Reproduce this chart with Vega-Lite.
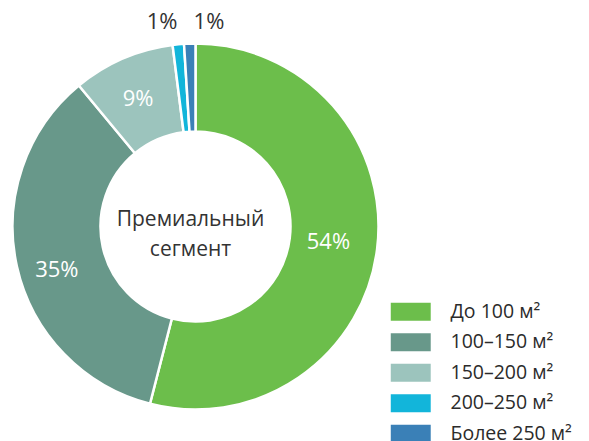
{
  "$schema": "https://vega.github.io/schema/vega-lite/v6.json",
  "width": 367,
  "height": 367,
  "autosize": {"type": "none"},
  "padding": {"left": 12, "top": 43, "right": 210, "bottom": 31},
  "background": "#ffffff",
  "config": {
    "view": {"stroke": null},
    "font": "Open Sans",
    "legend": {
      "orient": "none",
      "legendX": 378,
      "legendY": 259,
      "title": null,
      "symbolType": "M-2.22,-1H2.22V1H-2.22Z",
      "symbolSize": 324,
      "symbolStrokeWidth": 0,
      "symbolOpacity": 1,
      "symbolOffset": 11,
      "labelOffset": 30,
      "labelFont": "Open Sans",
      "labelFontSize": 19.5,
      "labelColor": "#2b2b2b",
      "labelLimit": 300,
      "rowPadding": 9.5,
      "padding": 0
    }
  },
  "data": {
    "values": [
      {"cat": "До 100 м²", "share": 0.54, "i": 1},
      {"cat": "100–150 м²", "share": 0.35, "i": 2},
      {"cat": "150–200 м²", "share": 0.09, "i": 3},
      {"cat": "200–250 м²", "share": 0.01, "i": 4},
      {"cat": "Более 250 м²", "share": 0.01, "i": 5}
    ]
  },
  "layer": [
    {
      "mark": {"type": "arc", "outerRadius": 183, "innerRadius": 95, "stroke": "#ffffff", "strokeWidth": 2.5},
      "encoding": {
        "theta": {"field": "share", "type": "quantitative", "stack": true},
        "order": {"field": "i", "type": "quantitative"},
        "color": {
          "field": "cat",
          "type": "nominal",
          "sort": null,
          "scale": {
            "domain": ["До 100 м²", "100–150 м²", "150–200 м²", "200–250 м²", "Более 250 м²"],
            "range": ["#6cbe4b", "#68988a", "#9cc4bd", "#12b5da", "#3a80b7"]
          }
        }
      }
    },
    {
      "mark": {"type": "text", "radius": 137, "dx": -3, "dy": -2, "fontSize": 22, "color": "#ffffff", "align": "center", "baseline": "middle"},
      "encoding": {
        "theta": {"field": "share", "type": "quantitative", "stack": true},
        "order": {"field": "i", "type": "quantitative"},
        "detail": {"field": "cat", "type": "nominal"},
        "text": {"field": "share", "type": "quantitative", "format": ".0%"},
        "opacity": {"condition": {"test": "datum.i == 1 || datum.i == 3", "value": 1}, "value": 0}
      }
    },
    {
      "mark": {"type": "text", "radius": 139, "dx": -3, "dy": 13, "fontSize": 22, "color": "#ffffff", "align": "center", "baseline": "middle"},
      "encoding": {
        "theta": {"field": "share", "type": "quantitative", "stack": true},
        "order": {"field": "i", "type": "quantitative"},
        "detail": {"field": "cat", "type": "nominal"},
        "text": {"field": "share", "type": "quantitative", "format": ".0%"},
        "opacity": {"condition": {"test": "datum.i == 2", "value": 1}, "value": 0}
      }
    },
    {
      "mark": {"type": "text", "radius": 207, "dx": -14, "dy": 2, "fontSize": 22, "color": "#333333", "align": "center", "baseline": "middle"},
      "encoding": {
        "theta": {"field": "share", "type": "quantitative", "stack": true},
        "order": {"field": "i", "type": "quantitative"},
        "detail": {"field": "cat", "type": "nominal"},
        "text": {"field": "share", "type": "quantitative", "format": ".0%"},
        "opacity": {"condition": {"test": "datum.i == 4", "value": 1}, "value": 0}
      }
    },
    {
      "mark": {"type": "text", "radius": 207, "dx": 20, "dy": 2, "fontSize": 22, "color": "#333333", "align": "center", "baseline": "middle"},
      "encoding": {
        "theta": {"field": "share", "type": "quantitative", "stack": true},
        "order": {"field": "i", "type": "quantitative"},
        "detail": {"field": "cat", "type": "nominal"},
        "text": {"field": "share", "type": "quantitative", "format": ".0%"},
        "opacity": {"condition": {"test": "datum.i == 5", "value": 1}, "value": 0}
      }
    },
    {
      "data": {"values": [{"title": "Премиальный\nсегмент"}]},
      "mark": {"type": "text", "fontSize": 21, "color": "#333333", "align": "center", "baseline": "middle", "lineBreak": "\n", "lineHeight": 30, "dx": -5, "dy": -7},
      "encoding": {
        "text": {"field": "title", "type": "nominal"}
      }
    }
  ]
}
